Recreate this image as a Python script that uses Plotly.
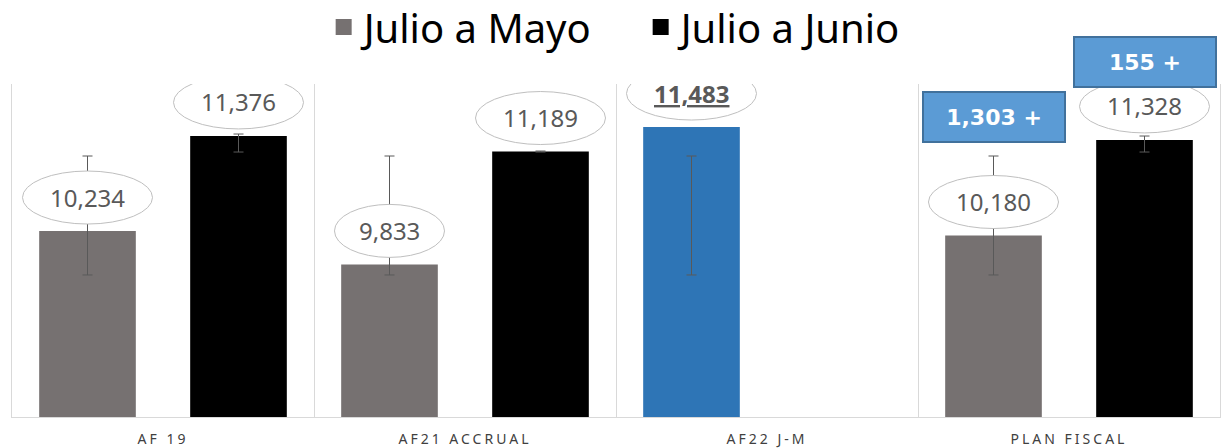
import plotly.graph_objects as go

categories = ["AF 19", "AF21 ACCRUAL", "AF22 J-M", "PLAN FISCAL"]
series_names = ["Julio a Mayo", "Julio a Junio"]
mayo = [10234, 9833, 11483, 10180]
junio = [11376, 11189, None, 11328]
mayo_err_high = [11135, 11135, 11135, 11135]
mayo_err_low = [9706, 9706, 9706, 9706]
junio_err_high = [11399, 11195, None, 11375]
junio_err_low = [11183, 11183, None, 11183]
highlight_index = 2  # AF22 J-M, reference value for the differences

GRAY = "#767171"
BLACK = "#000000"
BLUE = "#2E75B6"
BOX_BLUE = "#5B9BD5"
BOX_BORDER = "#41719C"
TEXT = "#595959"
FONT = "Noto Sans, Liberation Sans, sans-serif"
BOX_FONT = "DejaVu Sans, sans-serif"

mayo_colors = [BLUE if i == highlight_index else GRAY for i in range(len(mayo))]


def plus(vals, hi):
    return [None if v is None else h - v for v, h in zip(vals, hi)]


def minus(vals, lo):
    return [None if v is None else v - l for v, l in zip(vals, lo)]


fig = go.Figure()
fig.add_trace(go.Bar(
    x=categories, y=mayo, name=series_names[0], showlegend=False,
    marker=dict(color=mayo_colors, line=dict(width=0)),
    error_y=dict(type="data", symmetric=False, array=plus(mayo, mayo_err_high),
                 arrayminus=minus(mayo, mayo_err_low), color=TEXT, thickness=1, width=5),
))
fig.add_trace(go.Bar(
    x=categories, y=junio, name=series_names[1], showlegend=False,
    marker=dict(color=BLACK, line=dict(width=0)),
    error_y=dict(type="data", symmetric=False, array=plus(junio, junio_err_high),
                 arrayminus=minus(junio, junio_err_low), color=TEXT, thickness=1, width=5),
))
# legend entries
for nm, col in zip(series_names, [GRAY, BLACK]):
    fig.add_trace(go.Scatter(x=[None], y=[None], mode="markers", name=nm,
                             marker=dict(symbol="square", size=22, color=col)))

shapes = []
annotations = []
offset = 0.25
for series, off in ((mayo, -offset), (junio, offset)):
    for i, v in enumerate(series):
        if v is None:
            continue
        label = f"{v:,}"
        half_w = 65 if len(label) >= 6 else 55
        shapes.append(dict(
            type="circle", xref="x", yref="y", xsizemode="pixel", ysizemode="pixel",
            xanchor=i + off, yanchor=v, x0=-half_w, x1=half_w, y0=7, y1=60,
            line=dict(color="#BFBFBF", width=1), fillcolor="white", layer="above",
        ))
        txt = label
        if off < 0 and i == highlight_index:
            txt = f"<b><span style='text-decoration:underline'>{label}</span></b>"
        annotations.append(dict(
            x=i + off, y=v, xref="x", yref="y", text=txt, showarrow=False,
            yshift=34, font=dict(family=FONT, size=24, color=TEXT),
        ))

# difference boxes for PLAN FISCAL vs highlighted value
ref_val = mayo[highlight_index]
last = len(categories) - 1
for v, off, ysh in ((mayo[last], -offset, 119), (junio[last], offset, 78)):
    annotations.append(dict(
        x=last + off, y=v, xref="x", yref="y", text=f"<b>{ref_val - v:,} +</b>",
        showarrow=False, yshift=ysh, width=138, height=46,
        bgcolor=BOX_BLUE, bordercolor=BOX_BORDER, borderwidth=2, borderpad=1,
        font=dict(family=BOX_FONT, size=22, color="white"),
    ))

fig.update_layout(
    width=1224, height=448,
    margin=dict(l=12, r=4, t=84, b=31, autoexpand=False),
    paper_bgcolor="white", plot_bgcolor="white",
    barmode="group", bargap=0, bargroupgap=0.36,
    shapes=shapes, annotations=annotations,
    legend=dict(orientation="h", x=0.258, xanchor="left", y=1.171, yanchor="middle",
                font=dict(family=FONT, size=40, color="#000000"),
                itemsizing="trace", itemwidth=30, entrywidth=272,
                bgcolor="rgba(0,0,0,0)"),
    xaxis=dict(type="category", tickson="boundaries", showgrid=True, gridcolor="#D9D9D9",
               gridwidth=1, showline=True, linecolor="#D9D9D9", ticks="",
               ticklabelstandoff=9,
               tickfont=dict(family=FONT, size=14, color="#404040"), fixedrange=True),
    yaxis=dict(range=[8000, 12000], showgrid=False, showticklabels=False, zeroline=False,
               showline=True, mirror=True, linecolor="#D9D9D9", fixedrange=True),
)

post = """
document.body.style.margin = '0px';
document.querySelectorAll('.xtick text').forEach(function (t) {
  t.style.letterSpacing = '3px';
});
"""
fig.write_html("out.html", post_script=post, config={"displayModeBar": False})
